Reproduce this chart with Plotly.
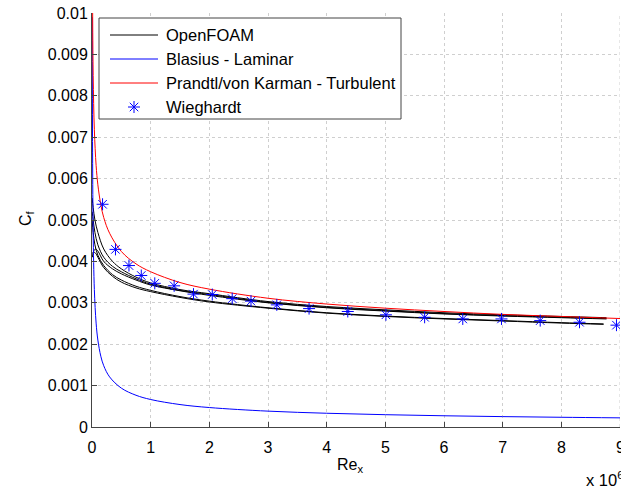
import plotly.graph_objects as go

# ---- data (Re_x in units of 1e6) ----
foam1_x = [0.003, 0.02, 0.05, 0.1, 0.2, 0.35, 0.5, 0.75, 1.0, 1.5, 2, 3, 4, 5, 6, 7, 8, 8.77]
foam1_y = [0.00553, 0.0053, 0.0050, 0.0047, 0.0043, 0.0040, 0.00382, 0.00362, 0.00348, 0.00332,
           0.00322, 0.00303, 0.00291, 0.00283, 0.00276, 0.00271, 0.00267, 0.00264]
foam2_x = [0.003, 0.02, 0.05, 0.1, 0.2, 0.35, 0.5, 0.75, 1.0, 1.5, 2, 3, 4, 5, 6, 7, 8, 8.77]
foam2_y = [0.0052, 0.0050, 0.0047, 0.0044, 0.0041, 0.00388, 0.00375, 0.00358, 0.00345, 0.0033,
           0.0032, 0.00301, 0.00289, 0.00281, 0.00274, 0.00269, 0.00265, 0.00262]
foam3_x = [0.005, 0.03, 0.06, 0.1, 0.2, 0.35, 0.5, 0.75, 1.0, 1.5, 2, 3, 4, 5, 6, 7, 8, 8.77]
foam3_y = [0.0041, 0.00425, 0.0043, 0.00425, 0.0040, 0.00382, 0.0037, 0.00355, 0.00343, 0.00329,
           0.00318, 0.003, 0.00288, 0.0028, 0.00273, 0.00268, 0.00264, 0.00261]
foam4_x = [0.003, 0.02, 0.05, 0.1, 0.2, 0.35, 0.5, 0.75, 1.0, 1.5, 2, 3, 4, 5, 6, 7, 8, 8.72]
foam4_y = [0.0050, 0.0047, 0.0044, 0.00415, 0.0039, 0.00368, 0.00355, 0.0034, 0.0033, 0.00315,
           0.00304, 0.00288, 0.00276, 0.00268, 0.00262, 0.00257, 0.00252, 0.00249]
foam5_x = [0.005, 0.03, 0.06, 0.1, 0.2, 0.35, 0.5, 0.75, 1.0, 1.5, 2, 3, 4, 5, 6, 7, 8, 8.72]
foam5_y = [0.0042, 0.00422, 0.0042, 0.0041, 0.00385, 0.00364, 0.0035, 0.00336, 0.00327, 0.00313,
           0.00302, 0.00287, 0.00275, 0.00267, 0.00261, 0.00256, 0.00251, 0.00248]

blasius_x = [0.0045, 0.01, 0.02, 0.04, 0.07, 0.1, 0.15, 0.2, 0.3, 0.5, 0.75, 1, 1.5, 2, 3, 4, 5, 6, 7, 8, 9]
blasius_y = [0.0099, 0.00664, 0.0047, 0.00332, 0.00251, 0.0021, 0.00171, 0.00148, 0.00121, 0.000939,
             0.000767, 0.000664, 0.000542, 0.00047, 0.000383, 0.000332, 0.000297, 0.000271,
             0.000251, 0.000235, 0.000221]

prandtl_x = [0.011, 0.02, 0.04, 0.07, 0.1, 0.15, 0.2, 0.3, 0.5, 0.75, 1, 1.5, 2, 3, 4, 5, 6, 7, 8, 9]
prandtl_y = [0.0100, 0.00849, 0.00718, 0.00632, 0.00585, 0.00537, 0.00506, 0.00468, 0.00424, 0.00394,
             0.00375, 0.00349, 0.00333, 0.00311, 0.00297, 0.00287, 0.00279, 0.00272, 0.00267, 0.00262]

wieg_x = [0.18, 0.40, 0.63, 0.84, 1.07, 1.40, 1.73, 2.05, 2.39, 2.71, 3.15, 3.70, 4.36, 5.01,
          5.67, 6.32, 6.98, 7.64, 8.31, 8.94]
wieg_y = [0.00538, 0.00429, 0.00390, 0.00366, 0.00347, 0.00341, 0.00321, 0.00320, 0.00310, 0.00304,
          0.00295, 0.00286, 0.00279, 0.00271, 0.00265, 0.00261, 0.00261, 0.00257, 0.00253, 0.00246]

x_ticks = [0, 1, 2, 3, 4, 5, 6, 7, 8, 9]
y_ticks = [0, 0.001, 0.002, 0.003, 0.004, 0.005, 0.006, 0.007, 0.008, 0.009, 0.01]
y_tick_labels = ["0", "0.001", "0.002", "0.003", "0.004", "0.005", "0.006", "0.007", "0.008", "0.009", "0.01"]

legend_names = ["OpenFOAM", "Blasius - Laminar", "Prandtl/von Karman - Turbulent", "Wieghardt"]
legend_colors = ["#000000", "#0000ff", "#ff0000", "#0000ff"]

FONT = "Liberation Sans, Arial, sans-serif"

# plot area in pixels
L, R, T, B = 92, 620, 13, 427
W, H = 621, 488
X_MAX, Y_MAX = 9.0, 0.01


def px_x(p):
    """pixel column -> main x-axis value (for legend furniture only)"""
    return (p - L) / (R - L) * X_MAX


def px_y(p):
    """pixel row -> main y-axis value (for legend furniture only)"""
    return (B - p) / (B - T) * Y_MAX


fig = go.Figure()
foams = [(foam1_x, foam1_y), (foam2_x, foam2_y), (foam3_x, foam3_y), (foam4_x, foam4_y), (foam5_x, foam5_y)]
for fx, fy in foams:
    fig.add_trace(go.Scatter(x=fx, y=fy, mode="lines", line=dict(color="black", width=1, shape="spline"),
                             name=legend_names[0], showlegend=False))
fig.add_trace(go.Scatter(x=blasius_x, y=blasius_y, mode="lines", line=dict(color="#0000ff", width=1, shape="spline"),
                         name=legend_names[1], showlegend=False))
fig.add_trace(go.Scatter(x=prandtl_x, y=prandtl_y, mode="lines", line=dict(color="#ff0000", width=1, shape="spline"),
                         name=legend_names[2], showlegend=False))
star = dict(symbol="asterisk-open", size=10, color="#0000ff", line=dict(color="#0000ff", width=1))
fig.add_trace(go.Scatter(x=wieg_x, y=wieg_y, mode="markers", marker=star,
                         name=legend_names[3], showlegend=False))

# ---- hand-built legend ----
row_y = [35, 59, 83, 107]
shapes = [dict(type="rect", xref="x", yref="y", layer="between",
               x0=px_x(99), x1=px_x(401), y0=px_y(119), y1=px_y(18),
               fillcolor="white", line=dict(color="#444", width=1)),
          # grid line at x = 9 (its tick label is drawn by an annotation)
          dict(type="line", xref="x", yref="paper", x0=X_MAX, x1=X_MAX, y0=0, y1=1, layer="below",
               line=dict(color="#cfcfcf", width=1, dash="dot"))]
annotations = []
for i, (name, col) in enumerate(zip(legend_names, legend_colors)):
    if i < 3:
        shapes.append(dict(type="line", xref="x", yref="y", layer="above",
                           x0=px_x(110), x1=px_x(158), y0=px_y(row_y[i]), y1=px_y(row_y[i]),
                           line=dict(color=col, width=1)))
    annotations.append(dict(text=name, x=px_x(164), y=px_y(row_y[i]), xref="x", yref="y", showarrow=False,
                            xanchor="left", yanchor="middle", font=dict(family=FONT, size=16.5, color="black")))
fig.add_trace(go.Scatter(x=[px_x(134)], y=[px_y(row_y[3])], mode="markers",
                         marker=star, showlegend=False, hoverinfo="skip"))

annotations += [
    dict(text="Re<sub>x</sub>", x=(350 - L) / (R - L), y=-(465 - B) / (B - T), xref="paper", yref="paper",
         showarrow=False, xanchor="center", yanchor="middle", font=dict(family=FONT, size=16)),
    dict(text="C<sub>f</sub>", x=(26 - L) / (R - L), y=(B - 218) / (B - T), xref="paper", yref="paper",
         showarrow=False, xanchor="center", yanchor="middle", textangle=-90, font=dict(family=FONT, size=16)),
    dict(text="x 10<sup>6</sup>", x=(584 - L) / (R - L), y=-(479 - B) / (B - T), xref="paper", yref="paper",
         showarrow=False, xanchor="left", yanchor="middle", font=dict(family=FONT, size=16.5)),
    dict(text=str(x_ticks[-1]), x=x_ticks[-1], y=-(447 - B) / (B - T), xref="x", yref="paper",
         showarrow=False, xanchor="center", yanchor="middle", font=dict(family=FONT, size=16)),
]

axis_common = dict(showgrid=True, gridcolor="#cfcfcf", griddash="dot", gridwidth=1,
                   zeroline=False, showline=True, linecolor="#444", linewidth=1,
                   ticks="inside", ticklen=5, tickcolor="#444",
                   tickfont=dict(family=FONT, size=16))

fig.update_layout(
    width=W, height=H,
    margin=dict(l=L, r=W - R, t=T, b=H - B),
    paper_bgcolor="white", plot_bgcolor="white",
    font=dict(family=FONT, size=16, color="black"),
    showlegend=False,
    xaxis=dict(range=[0, X_MAX], tickvals=x_ticks[:-1], ticktext=[str(v) for v in x_ticks[:-1]],
               ticklabelstandoff=6, **axis_common),
    yaxis=dict(range=[0, Y_MAX], tickvals=y_ticks, ticktext=y_tick_labels, **axis_common),
    shapes=shapes,
    annotations=annotations,
)

fig.write_html("out.html")
